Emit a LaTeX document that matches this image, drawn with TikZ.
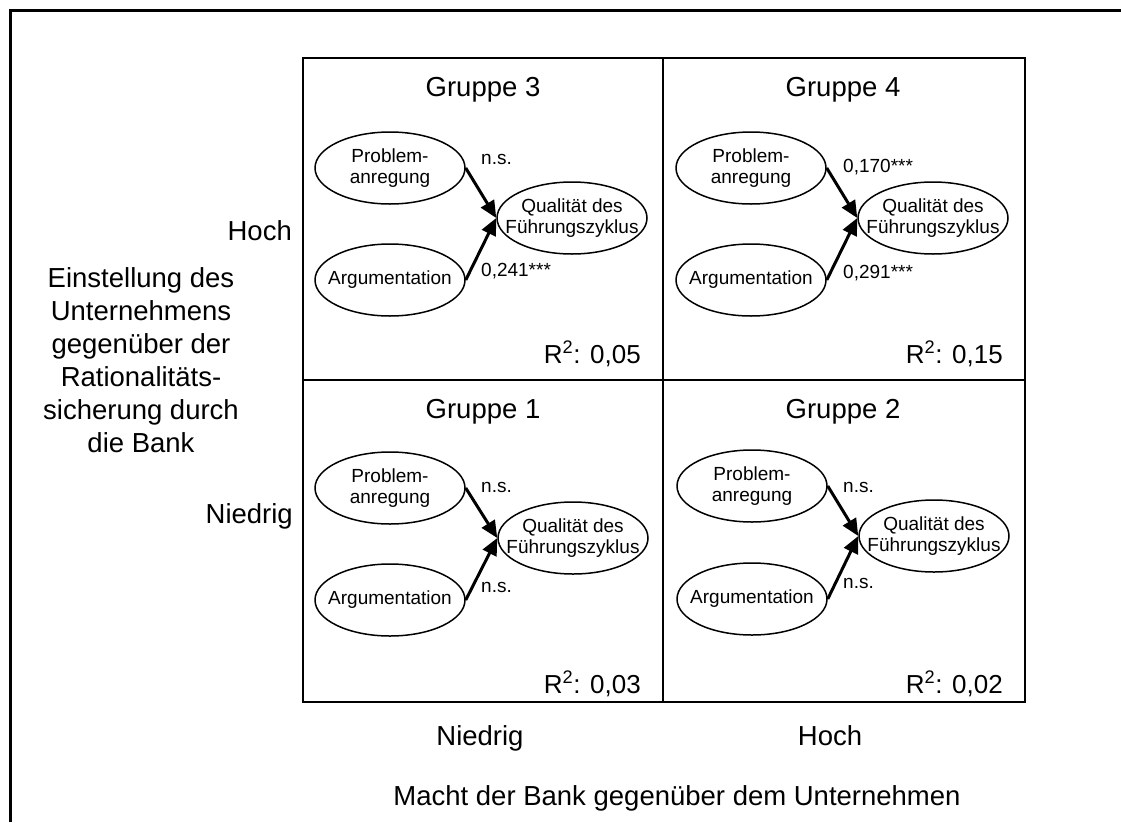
\documentclass[tikz,border=0pt]{standalone}
\usepackage{fontspec}
\setmainfont{Liberation Sans}
\usetikzlibrary{shapes.geometric,arrows.meta}
\begin{document}
\begin{tikzpicture}[x=1pt,y=-1pt,
  ell/.style={ellipse,draw,line width=1.5pt,minimum width=150pt,minimum height=72pt,inner sep=0pt},
  ntext/.style={align=center,font=\fontsize{19}{21.5}\selectfont,inner sep=0pt},
  big/.style={font=\fontsize{27.5}{33}\selectfont,inner sep=0pt},
  coef/.style={font=\fontsize{19}{21.5}\selectfont,inner sep=0pt,anchor=base west},
  rsq/.style={font=\fontsize{26}{30}\selectfont,inner sep=0pt,anchor=base east},
  arr/.style={line width=3pt,-{Triangle[length=17pt,width=15pt]}},
  gridline/.style={line width=1.6pt},
]
\useasboundingbox (0,0) rectangle (1121,822);
% outer frame
\draw[line width=3pt] (10,822) -- (10,10) -- (1121,10);
% grid
\draw[gridline] (303,58) rectangle (1025,702);
\draw[gridline] (663,58) -- (663,702);
\draw[gridline] (303,380) -- (1025,380);

% Gruppe 3 (top left)
\begin{scope}[shift={(303,58)}]
  \node[big,anchor=base] (t3) at (180,38) {Gruppe 3};
  \node[ell] (p3) at (87,110) {};
  \node[ntext] (p3t) at (p3) {Problem-\\anregung};
  \node[ell] (a3) at (87,222) {};
  \node[ntext] (a3t) at (a3) {Argumentation};
  \node[ell] (q3) at (269,160) {};
  \node[ntext] (q3t) at (q3) {Qualität des\\Führungszyklus};
  \draw[arr] (p3.east) -- (q3.west);
  \draw[arr] (a3.east) -- (q3.west);
  \node[coef] (c3a) at (178,106) {n.s.};
  \node[coef] (c3b) at (178,218) {0,241***};
  \node[rsq] (r3) at (338,305) {R\textsuperscript{2}: 0,05};
\end{scope}

% Gruppe 4 (top right)
\begin{scope}[shift={(663,58)}]
  \node[big,anchor=base] (t4) at (180,38) {Gruppe 4};
  \node[ell] (p4) at (88,110) {};
  \node[ntext] (p4t) at (p4) {Problem-\\anregung};
  \node[ell] (a4) at (88,222) {};
  \node[ntext] (a4t) at (a4) {Argumentation};
  \node[ell] (q4) at (270,160) {};
  \node[ntext] (q4t) at (q4) {Qualität des\\Führungszyklus};
  \draw[arr] (p4.east) -- (q4.west);
  \draw[arr] (a4.east) -- (q4.west);
  \node[coef] (c4a) at (180,114) {0,170***};
  \node[coef] (c4b) at (180,220) {0,291***};
  \node[rsq] (r4) at (340,305) {R\textsuperscript{2}: 0,15};
\end{scope}

% Gruppe 1 (bottom left)
\begin{scope}[shift={(303,380)}]
  \node[big,anchor=base] (t1) at (180,38) {Gruppe 1};
  \node[ell] (p1) at (87,108) {};
  \node[ntext] (p1t) at (p1) {Problem-\\anregung};
  \node[ell] (a1) at (87,220) {};
  \node[ntext] (a1t) at (a1) {Argumentation};
  \node[ell] (q1) at (270,158) {};
  \node[ntext] (q1t) at (q1) {Qualität des\\Führungszyklus};
  \draw[arr] (p1.east) -- (q1.west);
  \draw[arr] (a1.east) -- (q1.west);
  \node[coef] (c1a) at (178,112) {n.s.};
  \node[coef] (c1b) at (178,212) {n.s.};
  \node[rsq] (r1) at (338,313) {R\textsuperscript{2}: 0,03};
\end{scope}

% Gruppe 2 (bottom right)
\begin{scope}[shift={(663,380)}]
  \node[big,anchor=base] (t2) at (180,38) {Gruppe 2};
  \node[ell] (p2) at (89,106) {};
  \node[ntext] (p2t) at (p2) {Problem-\\anregung};
  \node[ell] (a2) at (89,219) {};
  \node[ntext] (a2t) at (a2) {Argumentation};
  \node[ell] (q2) at (271,156) {};
  \node[ntext] (q2t) at (q2) {Qualität des\\Führungszyklus};
  \draw[arr] (p2.east) -- (q2.west);
  \draw[arr] (a2.east) -- (q2.west);
  \node[coef] (c2a) at (180,112) {n.s.};
  \node[coef] (c2b) at (180,208) {n.s.};
  \node[rsq] (r2) at (340,313) {R\textsuperscript{2}: 0,02};
\end{scope}

% axis labels
\node[big,anchor=base east] (yhoch) at (292,240) {Hoch};
\node[big,anchor=base east] (yniedrig) at (293,523) {Niedrig};
\node[big,align=center] (ytitle) at (141,360.5) {Einstellung des\\Unternehmens\\gegenüber der\\Rationalitäts-\\sicherung durch\\die Bank};
\node[big,anchor=base] (xniedrig) at (480,745) {Niedrig};
\node[big,anchor=base] (xhoch) at (830,745) {Hoch};
\node[big,anchor=base] (xtitle) at (677,805) {Macht der Bank gegenüber dem Unternehmen};
\end{tikzpicture}
\end{document}
